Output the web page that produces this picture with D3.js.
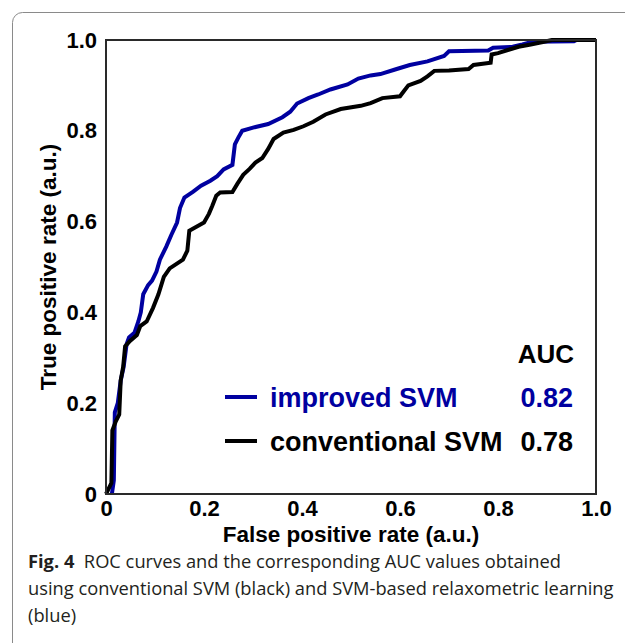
<!DOCTYPE html>
<html>
<head>
<meta charset="utf-8">
<script src="https://cdn.jsdelivr.net/npm/d3@7"></script>
<style>
  body { margin: 0; background: #fff; }
  svg { display: block; }
</style>
</head>
<body>
<svg id="chart" width="625" height="643"></svg>
<script>
// ROC points: [false positive rate, true positive rate]
let conventionalRoc = [
  [0, 0], [0.011, 0.024], [0.013, 0.14], [0.02, 0.16], [0.027, 0.175], [0.03, 0.25],
  [0.035, 0.28], [0.039, 0.325], [0.049, 0.337], [0.063, 0.35], [0.07, 0.37], [0.083, 0.38],
  [0.096, 0.41], [0.107, 0.44], [0.118, 0.478], [0.13, 0.497], [0.157, 0.516], [0.166, 0.536],
  [0.17, 0.58], [0.18, 0.586], [0.2, 0.598], [0.21, 0.617], [0.217, 0.635], [0.225, 0.657],
  [0.233, 0.664], [0.258, 0.665], [0.268, 0.683], [0.28, 0.703], [0.293, 0.716], [0.305, 0.73],
  [0.319, 0.74], [0.331, 0.76], [0.342, 0.782], [0.362, 0.796], [0.383, 0.802], [0.403, 0.81],
  [0.423, 0.82], [0.448, 0.836], [0.479, 0.848], [0.52, 0.855], [0.54, 0.861], [0.564, 0.872],
  [0.6, 0.876], [0.607, 0.886], [0.617, 0.9], [0.642, 0.91], [0.656, 0.92], [0.67, 0.932],
  [0.7, 0.933], [0.74, 0.936], [0.75, 0.945], [0.785, 0.95], [0.787, 0.968], [0.8, 0.971],
  [0.82, 0.978], [0.842, 0.985], [0.867, 0.99], [0.894, 0.996], [0.91, 1], [1, 1]
];

let improvedRoc = [
  [0.012, 0], [0.016, 0.03], [0.018, 0.18], [0.024, 0.2], [0.03, 0.25], [0.036, 0.28],
  [0.042, 0.33], [0.047, 0.345], [0.058, 0.355], [0.066, 0.38], [0.071, 0.4], [0.076, 0.44],
  [0.086, 0.46], [0.094, 0.47], [0.103, 0.49], [0.11, 0.516], [0.123, 0.545], [0.133, 0.57],
  [0.145, 0.598], [0.151, 0.63], [0.16, 0.653], [0.178, 0.666], [0.194, 0.679], [0.213, 0.69],
  [0.227, 0.7], [0.24, 0.715], [0.258, 0.725], [0.263, 0.77], [0.27, 0.785], [0.278, 0.8],
  [0.3, 0.807], [0.331, 0.815], [0.36, 0.83], [0.376, 0.842], [0.39, 0.86], [0.413, 0.872],
  [0.433, 0.88], [0.458, 0.891], [0.493, 0.902], [0.515, 0.915], [0.54, 0.922], [0.56, 0.925],
  [0.59, 0.935], [0.62, 0.945], [0.656, 0.953], [0.69, 0.965], [0.7, 0.975], [0.78, 0.977],
  [0.79, 0.983], [0.83, 0.985], [0.85, 0.99], [0.87, 0.996], [0.955, 0.997], [0.96, 1], [1, 1]
];

let xTicks = [0, 0.2, 0.4, 0.6, 0.8, 1.0];
let xTickLabels = ["0", "0.2", "0.4", "0.6", "0.8", "1.0"];
let yTicks = [0, 0.2, 0.4, 0.6, 0.8, 1.0];
let yTickLabels = ["0", "0.2", "0.4", "0.6", "0.8", "1.0"];

let seriesNames = ["improved SVM", "conventional SVM"];
let aucValues = ["0.82", "0.78"];
let seriesColors = ["#0000a0", "#000000"];

let captionLines = [
  ["Fig. 4", "  ROC curves and the corresponding AUC values obtained"],
  ["", "using conventional SVM (black) and SVM-based relaxometric learning"],
  ["", "(blue)"]
];

let svg = d3.select("#chart");
let bold = "'Liberation Sans', Arial, sans-serif";

// outer panel border (rounded, runs off right and bottom)
svg.append("rect")
  .attr("x", 12.5).attr("y", 12.5)
  .attr("width", 700).attr("height", 700)
  .attr("rx", 10)
  .attr("fill", "none")
  .attr("stroke", "#8a8a8a")
  .attr("stroke-width", 1);

let margin = { left: 106, top: 40, right: 596, bottom: 494 };

let x = d3.scaleLinear().domain([0, 1]).range([margin.left, margin.right]);
let y = d3.scaleLinear().domain([0, 1]).range([margin.bottom, margin.top]);

// y axis labels
let yAxis = d3.axisLeft(y)
  .tickValues(yTicks)
  .tickSize(0)
  .tickPadding(9)
  .tickFormat((d, i) => yTickLabels[i]);

svg.append("g")
  .attr("transform", "translate(" + margin.left + ",0)")
  .call(yAxis)
  .call(g => g.select(".domain").remove())
  .selectAll("text")
  .attr("font-family", bold)
  .attr("font-weight", "bold")
  .attr("font-size", 22)
  .attr("fill", "#000");

// x axis labels
let xAxis = d3.axisBottom(x)
  .tickValues(xTicks)
  .tickSize(0)
  .tickPadding(6)
  .tickFormat((d, i) => xTickLabels[i]);

svg.append("g")
  .attr("transform", "translate(0," + margin.bottom + ")")
  .call(xAxis)
  .call(g => g.select(".domain").remove())
  .selectAll("text")
  .attr("font-family", bold)
  .attr("font-weight", "bold")
  .attr("font-size", 22)
  .attr("fill", "#000");

// axis titles
svg.append("text")
  .attr("x", (margin.left + margin.right) / 2)
  .attr("y", 542)
  .attr("text-anchor", "middle")
  .attr("font-family", bold)
  .attr("font-weight", "bold")
  .attr("font-size", 22.5)
  .text("False positive rate (a.u.)");

svg.append("text")
  .attr("transform", "translate(56," + (margin.top + margin.bottom) / 2 + ") rotate(-90)")
  .attr("text-anchor", "middle")
  .attr("font-family", bold)
  .attr("font-weight", "bold")
  .attr("font-size", 22.5)
  .text("True positive rate (a.u.)");

// curves
let line = d3.line()
  .x(d => x(d[0]))
  .y(d => y(d[1]));

let plot = svg.append("g");

plot.append("path")
  .datum(improvedRoc)
  .attr("d", line)
  .attr("fill", "none")
  .attr("stroke", seriesColors[0])
  .attr("stroke-width", 4)
  .attr("stroke-linejoin", "miter");

plot.append("path")
  .datum(conventionalRoc)
  .attr("d", line)
  .attr("fill", "none")
  .attr("stroke", seriesColors[1])
  .attr("stroke-width", 4)
  .attr("stroke-linejoin", "miter");

// plot frame
svg.append("rect")
  .attr("x", margin.left).attr("y", margin.top)
  .attr("width", margin.right - margin.left)
  .attr("height", margin.bottom - margin.top)
  .attr("fill", "none")
  .attr("stroke", "#2a2a2a")
  .attr("stroke-width", 2);

// legend
svg.append("text")
  .attr("x", 574).attr("y", 363)
  .attr("text-anchor", "end")
  .attr("font-family", bold)
  .attr("font-weight", "bold")
  .attr("font-size", 26)
  .text("AUC");

let legendY = [397, 441];
seriesNames.forEach(function (name, i) {
  let g = svg.append("g").attr("transform", "translate(0," + legendY[i] + ")");
  g.append("line")
    .attr("x1", 225).attr("x2", 257)
    .attr("stroke", seriesColors[i])
    .attr("stroke-width", 4);
  g.append("text")
    .attr("x", 270).attr("dy", "0.36em")
    .attr("font-family", bold)
    .attr("font-weight", "bold")
    .attr("font-size", 27)
    .attr("fill", seriesColors[i])
    .text(name);
  g.append("text")
    .attr("x", 573).attr("dy", "0.36em")
    .attr("text-anchor", "end")
    .attr("font-family", bold)
    .attr("font-weight", "bold")
    .attr("font-size", 27)
    .attr("fill", seriesColors[i])
    .text(aucValues[i]);
});

// caption
let caption = svg.append("g").attr("font-family", "'Open Sans', 'Noto Sans', sans-serif");
let captionRows = caption.selectAll("text")
  .data(captionLines)
  .join("text")
  .attr("x", 28)
  .attr("y", (d, i) => 568 + i * 27)
  .attr("font-size", 18)
  .attr("fill", "#231f20")
  .attr("xml:space", "preserve");

captionRows.append("tspan")
  .attr("font-weight", "bold")
  .text(d => d[0]);
captionRows.append("tspan")
  .text(d => d[1]);

// fit the font so the longest caption line spans like the original
let longest = captionRows.filter((d, i) => i === 1).node();
let size = 18 * 586 / longest.getComputedTextLength();
captionRows.attr("font-size", size);
</script>
</body>
</html>
